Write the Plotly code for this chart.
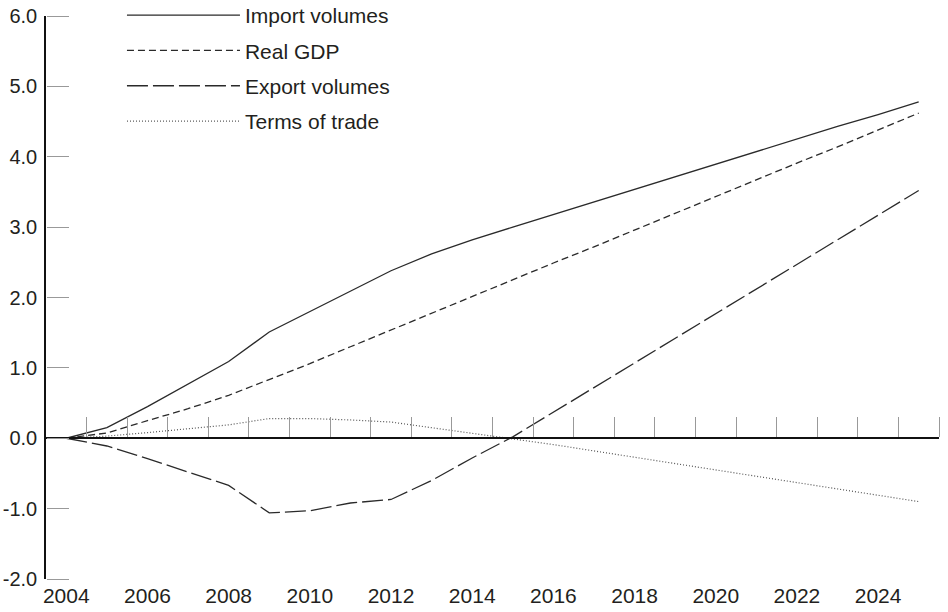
import plotly.graph_objects as go

years = list(range(2004, 2026))
import_volumes = [0.0, 0.15, 0.45, 0.77, 1.09, 1.51, 1.80, 2.09, 2.38, 2.62, 2.82, 3.00,
                  3.18, 3.36, 3.53, 3.71, 3.89, 4.07, 4.25, 4.43, 4.60, 4.78]
real_gdp = [0.0, 0.075, 0.25, 0.42, 0.61, 0.83, 1.06, 1.30, 1.54, 1.78, 2.01, 2.25,
            2.49, 2.72, 2.96, 3.20, 3.43, 3.67, 3.91, 4.14, 4.38, 4.62]
export_volumes = [0.0, -0.11, -0.29, -0.48, -0.67, -1.06, -1.03, -0.92, -0.87, -0.60, -0.28, 0.02,
                  0.37, 0.72, 1.07, 1.42, 1.77, 2.12, 2.47, 2.82, 3.17, 3.52]
terms_of_trade = [0.0, 0.03, 0.08, 0.13, 0.19, 0.28, 0.28, 0.26, 0.23, 0.15, 0.07, 0.0,
                  -0.09, -0.18, -0.27, -0.36, -0.45, -0.54, -0.63, -0.72, -0.81, -0.90]

series_names = ["Import volumes", "Real GDP", "Export volumes", "Terms of trade"]
series_values = [import_volumes, real_gdp, export_volumes, terms_of_trade]
dashes = ["solid", "7px,4px", "21px,5px", "1px,2px"]
colors = ["#2a2a2a", "#2a2a2a", "#2a2a2a", "#555555"]
widths = [1.3, 1.3, 1.3, 1.2]

y_ticks = [-2, -1, 0, 1, 2, 3, 4, 5, 6]
x_label_years = list(range(2004, 2025, 2))
boundary_ticks = [y + 0.5 for y in range(2004, 2026)]

TEXT = "#231f20"
FONT = "Liberation Sans, Arial, sans-serif"

L, R, T, B = 46, 8.5, 16, 33
PW, PH = 948 - L - R, 612 - T - B
X_RANGE = [2003.5, 2025.5]
Y_RANGE = [-2, 6]

fig = go.Figure()
for i, (name, vals) in enumerate(zip(series_names, series_values)):
    fig.add_trace(go.Scatter(
        x=years, y=vals, mode="lines", name=name,
        line=dict(color=colors[i], width=widths[i], dash=dashes[i]),
        legendgroup=f"g{i}",
    ))

# invisible helper traces so the auxiliary tick axes are rendered
fig.add_trace(go.Scatter(x=years, y=[0] * len(years), xaxis="x2", yaxis="y", mode="lines",
                         line=dict(width=0), showlegend=False, hoverinfo="skip"))
fig.add_trace(go.Scatter(x=years, y=[0] * len(years), xaxis="x", yaxis="y2", mode="lines",
                         line=dict(width=0), showlegend=False, hoverinfo="skip"))

fig.update_layout(
    width=948, height=612,
    margin=dict(l=L, r=R, t=T, b=B, autoexpand=False),
    paper_bgcolor="white", plot_bgcolor="white",
    font=dict(family=FONT, color=TEXT, size=20),
    showlegend=True,
    legend=dict(
        xref="paper", yref="paper",
        x=(122 - L) / PW, y=1 + (T + 5) / PH, xanchor="left", yanchor="top",
        itemwidth=113, font=dict(size=21, color=TEXT),
        tracegroupgap=5, bgcolor="rgba(0,0,0,0)", borderwidth=0,
        itemclick=False,
    ),
    xaxis=dict(
        range=X_RANGE, tickmode="array", tickvals=x_label_years,
        ticktext=[str(y) for y in x_label_years], tickangle=0,
        showline=False, ticks="", showgrid=False, zeroline=False,
        tickfont=dict(size=21, color=TEXT), automargin=False,
        ticklabelstandoff=2,
    ),
    xaxis2=dict(
        range=X_RANGE, overlaying="x", anchor="free", position=0.25,
        side="top", tickmode="array", tickvals=boundary_ticks,
        ticks="outside", ticklen=20, tickcolor="#999999", tickwidth=1.3,
        showticklabels=False, showline=True, linecolor="#111111", linewidth=1.6,
        showgrid=False, zeroline=False, automargin=False,
    ),
    yaxis=dict(
        range=Y_RANGE, tickmode="array", tickvals=y_ticks,
        ticktext=[f"{v:.1f}" for v in y_ticks],
        ticks="", showline=True, linecolor="#111111", linewidth=1.6,
        showgrid=False, zeroline=False, automargin=False,
        tickfont=dict(size=20, color=TEXT), ticklabelstandoff=3,
    ),
    yaxis2=dict(
        range=Y_RANGE, overlaying="y", anchor="free", position=0, side="right",
        tickmode="array", tickvals=y_ticks,
        ticks="outside", ticklen=22, tickcolor="#999999", tickwidth=1.3,
        showticklabels=False, showline=False, showgrid=False, zeroline=False,
        automargin=False,
    ),
)

fig.write_html("out.html")
